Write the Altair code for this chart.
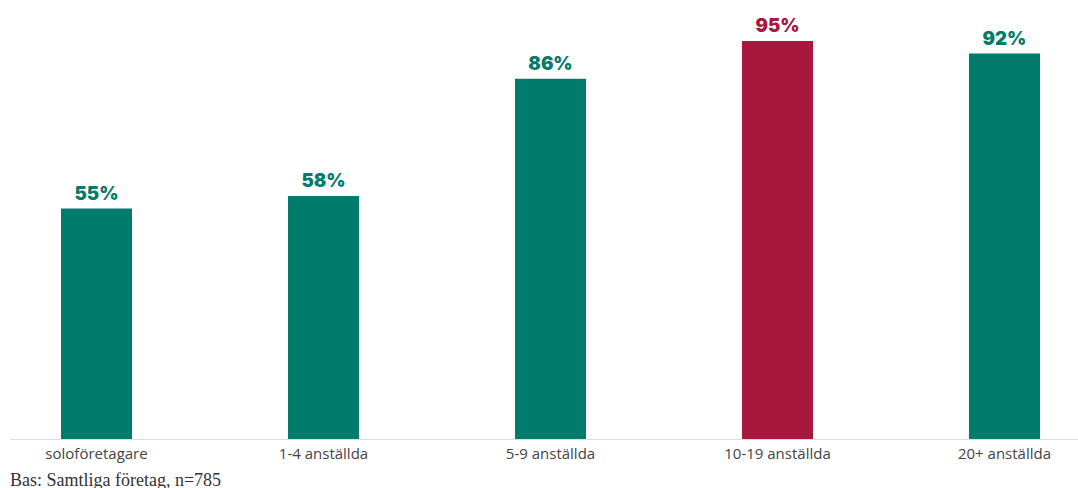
import altair as alt
import pandas as pd

categories = ["soloföretagare", "1-4 anställda", "5-9 anställda", "10-19 anställda", "20+ anställda"]
values = [55, 58, 86, 95, 92]
highlight = [False, False, False, True, False]
labels = ["55%", "58%", "86%", "95%", "92%"]

df = pd.DataFrame({"cat": categories, "val": values, "hl": highlight, "lab": labels})

color_scale = alt.Scale(domain=[False, True], range=["#007B6C", "#A8173D"])

x = alt.X("cat:N", sort=categories, title=None,
          scale=alt.Scale(paddingInner=0.687, paddingOuter=0.196, align=0.573),
          axis=alt.Axis(labelAngle=0, labelFontSize=15, labelColor="#444444",
                        labelFont="Open Sans", labelPadding=7, ticks=False,
                        domainColor="#DDDDDD", grid=False))
y = alt.Y("val:Q", scale=alt.Scale(domain=[0, 100]), axis=None)

bars = alt.Chart(df).mark_bar().encode(
    x=x, y=y,
    color=alt.Color("hl:N", scale=color_scale, legend=None),
)
text = alt.Chart(df).mark_text(baseline="alphabetic", dy=-9, fontSize=18.5,
                               fontWeight=900, font="Inter").encode(
    x=x, y=y, text="lab:N",
    color=alt.Color("hl:N", scale=color_scale, legend=None),
)

chart = (bars + text).properties(
    width=1068, height=419,
    padding={"left": 10, "top": 16, "right": 0, "bottom": 0},
    title=alt.TitleParams("Bas: Samtliga företag, n=785", orient="bottom", anchor="start",
                          font="Liberation Serif", fontSize=18, fontWeight="normal",
                          color="#333333", offset=11),
).configure_view(stroke=None)

chart.save("out.html", embed_options={"renderer": "svg", "actions": False})
